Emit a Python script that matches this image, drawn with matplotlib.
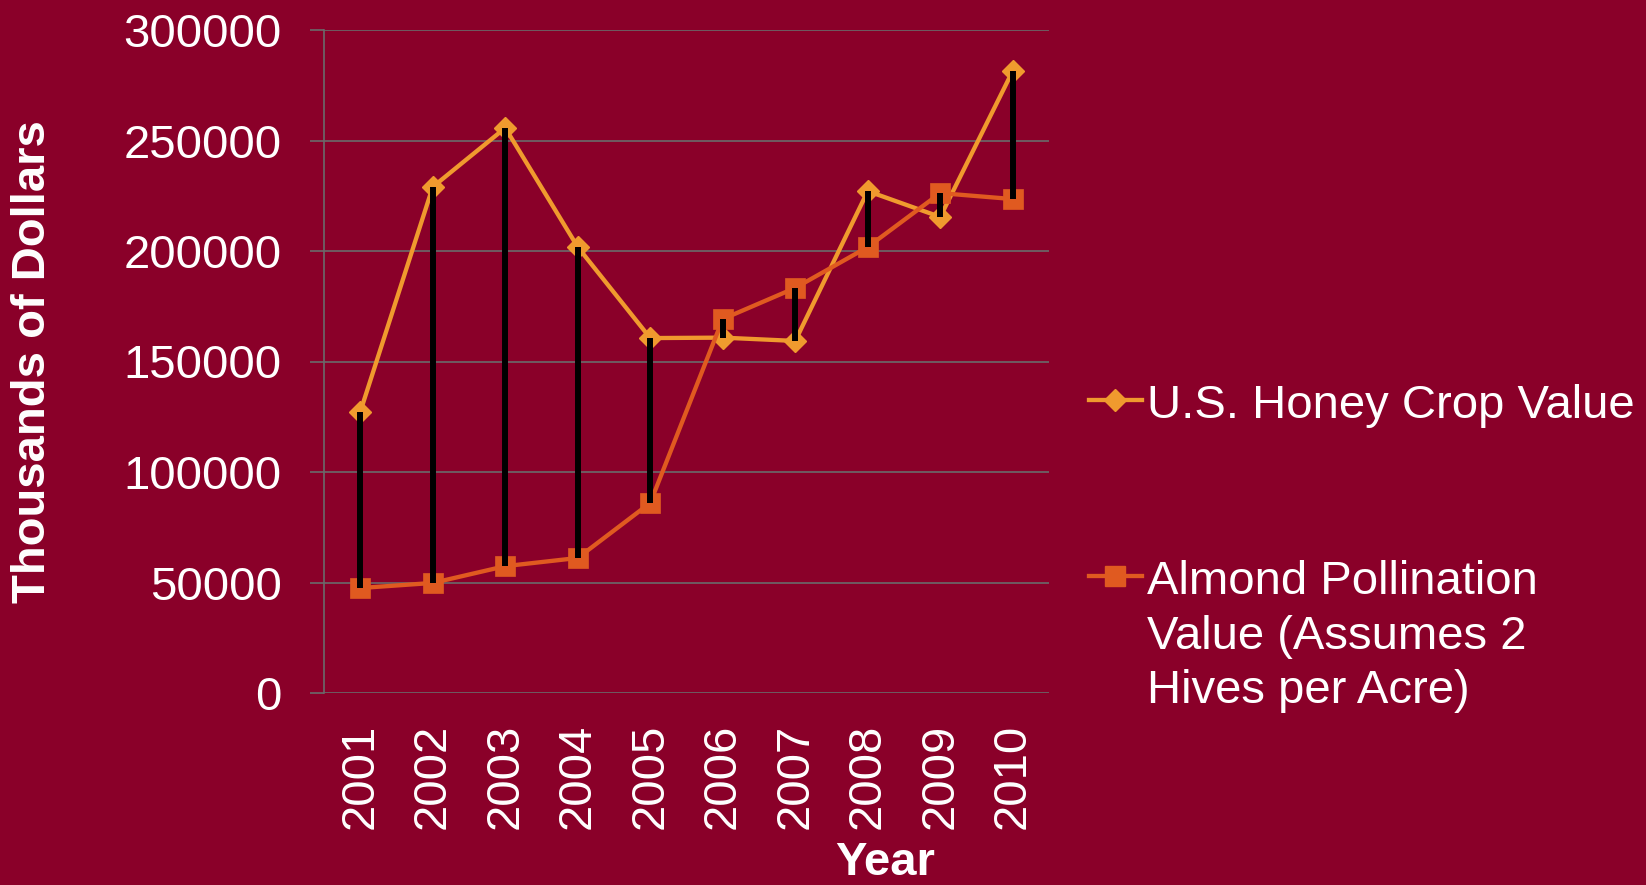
import matplotlib
matplotlib.use("Agg")
import matplotlib.pyplot as plt
from matplotlib.lines import Line2D

years = ["2001", "2002", "2003", "2004", "2005", "2006", "2007", "2008", "2009", "2010"]
honey = [127200, 229000, 255700, 201800, 160600, 160800, 159300, 227100, 215400, 281500]
almond = [47500, 49800, 57400, 61100, 86000, 169200, 183300, 201800, 226200, 223500]
yticks = [0, 50000, 100000, 150000, 200000, 250000, 300000]

honey_label = "U.S. Honey Crop Value"
almond_label = ["Almond Pollination", "Value (Assumes 2", "Hives per Acre)"]

bg = "#8a0029"
honey_col = "#f09a2e"
almond_col = "#e05a20"
grid_col = "#6a6a6a"
W, H = 1646, 885

plt.rcParams["font.family"] = ["Liberation Sans", "DejaVu Sans"]

fig = plt.figure(figsize=(W / 100, H / 100), dpi=100, facecolor=bg)
ax = fig.add_axes([324 / W, 1 - 693 / H, 725 / W, 663 / H], facecolor=bg)

x = list(range(len(years)))
ax.plot(x, honey, color=honey_col, lw=3.1, marker="D", ms=11, mec=honey_col, zorder=3)
ax.plot(x, almond, color=almond_col, lw=3.1, marker="s", ms=14, mec=almond_col, mew=0.5, zorder=3)
# high-low lines between the two series
ax.vlines(x, almond, honey, color="black", lw=4.3, zorder=4)

ax.set_xlim(-0.5, len(years) - 0.5)
ax.set_ylim(0, 300000)
ax.set_yticks(yticks)
ax.set_yticklabels([str(v) for v in yticks])
ax.set_xticks(x)
ax.set_xticklabels(years, rotation=90, va="top", ha="center")

ax.grid(axis="y", color=grid_col, lw=1.2)
ax.set_axisbelow(True)
for s in ["top", "right", "bottom"]:
    ax.spines[s].set_visible(False)
ax.spines["left"].set_color(grid_col)
ax.spines["left"].set_linewidth(1.2)
ax.tick_params(axis="y", length=10, width=1.2, color=grid_col, pad=20.5,
               labelsize=34, labelcolor="white")
ax.tick_params(axis="x", length=0, pad=22, labelsize=34, labelcolor="white")

ax.set_ylabel("Thousands of Dollars", fontsize=34, fontweight="bold", color="white")
ax.yaxis.label.set_va("center")
ax.yaxis.set_label_coords((33 - 324) / 725, 0.5)
ax.set_xlabel("Year", fontsize=34, fontweight="bold", color="white")
ax.xaxis.label.set_va("baseline")
ax.xaxis.set_label_coords((885 - 324) / 725, (693 - 875) / 663)

# legend drawn by hand so the marker sits on the first line of the label
def fx(px):
    return px / W

def fy(py):
    return 1 - py / H

fig.add_artist(Line2D([fx(1089), fx(1142)], [fy(400), fy(400)], color=honey_col, lw=3.1,
                      transform=fig.transFigure))
fig.add_artist(Line2D([fx(1115)], [fy(400)], color=honey_col, marker="D", ms=11,
                      transform=fig.transFigure))
fig.text(fx(1147), fy(418), honey_label, fontsize=34, color="white", va="baseline")

fig.add_artist(Line2D([fx(1089), fx(1142)], [fy(576), fy(576)], color=almond_col, lw=3.1,
                      transform=fig.transFigure))
fig.add_artist(Line2D([fx(1115)], [fy(576)], color=almond_col, marker="s", ms=14,
                      transform=fig.transFigure))
for line, base in zip(almond_label, [594, 649, 703]):
    fig.text(fx(1147), fy(base), line, fontsize=34, color="white", va="baseline")

fig.savefig("out.png", dpi=100, facecolor=bg)
